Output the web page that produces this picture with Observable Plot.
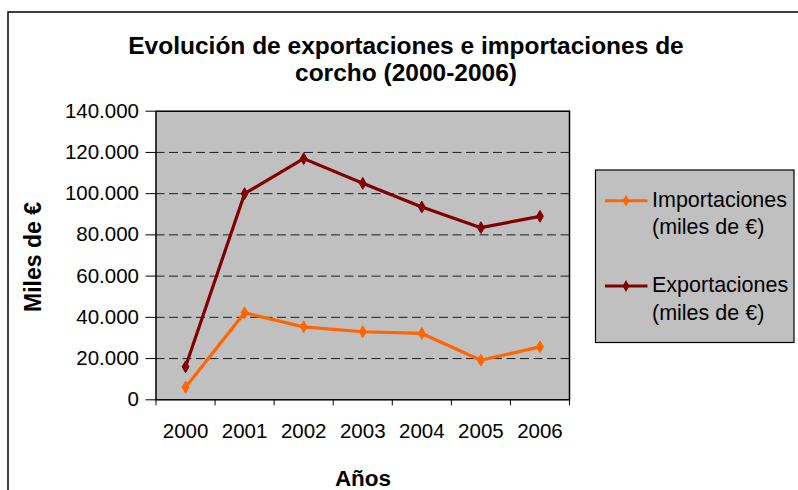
<!DOCTYPE html>
<html>
<head>
<meta charset="utf-8">
<script src="https://cdn.jsdelivr.net/npm/d3@7"></script>
<script src="https://cdn.jsdelivr.net/npm/@observablehq/plot@0.6"></script>
<style>
  html, body { margin: 0; padding: 0; background: #fff; }
  #wrap { position: relative; width: 798px; height: 490px; overflow: hidden; font-family: "Liberation Sans", Arial, sans-serif; }
  #wrap > svg { position: absolute; left: 0; top: 0; }
</style>
</head>
<body>
<div id="wrap"></div>
<script>
// ---- data ----
const years = [2000, 2001, 2002, 2003, 2004, 2005, 2006];
const importaciones = [6100, 42200, 35400, 33000, 32200, 19200, 25700];
const exportaciones = [16000, 100000, 117000, 105000, 93500, 83500, 89000];
const yTicks = [0, 20000, 40000, 60000, 80000, 100000, 120000, 140000];
const gridTicks = [20000, 40000, 60000, 80000, 100000, 120000];
const seriesNames = ["Importaciones", "Exportaciones"];
const legendLabels = [["Importaciones", "(miles de €)"], ["Exportaciones", "(miles de €)"]];
const titleLines = ["Evolución de exportaciones e importaciones de", "corcho (2000-2006)"];
const yTitle = "Miles de €";
const xTitle = "Años";

const colors = {Importaciones: "#ff6600", Exportaciones: "#800000"};
const rows = [];
years.forEach((y, i) => {
  rows.push({year: y, serie: "Importaciones", value: importaciones[i]});
  rows.push({year: y, serie: "Exportaciones", value: exportaciones[i]});
});
const boundaries = [years[0] - 0.5, ...years.map(y => y + 0.5)];
const fmt = d => d === 0 ? "0" : d3.format(",")(d).replace(/,/g, ".");

const chart = Plot.plot({
  width: 798,
  height: 490,
  marginLeft: 155.5,
  marginRight: 229,
  marginTop: 110.7,
  marginBottom: 90.7,
  style: {fontFamily: "'Liberation Sans', Arial, sans-serif", fontSize: "20.5px", color: "#000", background: "transparent"},
  x: {type: "linear", domain: [years[0] - 0.5, years[years.length - 1] + 0.5], axis: null},
  y: {domain: [0, 140000], axis: null},
  color: {domain: seriesNames, range: seriesNames.map(s => colors[s])},
  marks: [
    Plot.frame({fill: "#c0c0c0"}),
    Plot.ruleY(gridTicks, {stroke: "#000", strokeWidth: 1, strokeDasharray: "9,4.5", strokeOpacity: 0.85}),
    Plot.axisY(yTicks, {tickSize: 10, tickPadding: 7, tickFormat: fmt, label: null, stroke: "#000", fill: "#000", fontSize: 20.5}),
    Plot.axisX(boundaries, {tickSize: 6, tickFormat: () => "", label: null, stroke: "#000"}),
    Plot.axisX(years, {tickSize: 0, tickPadding: 24, tickFormat: d => String(d), label: null, fill: "#000", fontSize: 20.5}),
    Plot.line(rows, {x: "year", y: "value", z: "serie", stroke: "serie", strokeWidth: 3.2, strokeLinejoin: "round"}),
    Plot.dot(rows, {x: "year", y: "value", fill: "serie", stroke: "serie", symbol: "diamond", r: 3.6, strokeWidth: 1}),
    Plot.frame({stroke: "#000", strokeWidth: 1.5})
  ]
});
document.getElementById("wrap").appendChild(chart);

// ---- overlay: outer border, titles, legend ----
const ov = d3.select("#wrap").append("svg")
  .attr("width", 798).attr("height", 490)
  .style("font-family", "'Liberation Sans', Arial, sans-serif");

ov.append("rect").attr("x", 8).attr("y", 12).attr("width", 820).attr("height", 500)
  .attr("fill", "none").attr("stroke", "#000").attr("stroke-width", 1.5);

ov.selectAll("text.title").data(titleLines).join("text")
  .attr("class", "title")
  .attr("x", 406).attr("y", (d, i) => 53.5 + i * 27.5)
  .attr("text-anchor", "middle").attr("font-weight", "bold").attr("font-size", 24.5)
  .text(d => d);

ov.append("text").attr("transform", "translate(41,257) rotate(-90)")
  .attr("text-anchor", "middle").attr("font-weight", "bold").attr("font-size", 23)
  .text(yTitle);

ov.append("text").attr("x", 363).attr("y", 486)
  .attr("text-anchor", "middle").attr("font-weight", "bold").attr("font-size", 22.5)
  .text(xTitle);

// legend
ov.append("rect").attr("x", 595.5).attr("y", 170).attr("width", 198.5).attr("height", 172.5)
  .attr("fill", "#c0c0c0").attr("stroke", "#000").attr("stroke-width", 1.2);
const legY = [200.7, 286];
seriesNames.forEach((s, i) => {
  const g = ov.append("g");
  g.append("line").attr("x1", 605).attr("x2", 647.5).attr("y1", legY[i]).attr("y2", legY[i])
    .attr("stroke", colors[s]).attr("stroke-width", 3);
  g.append("path").attr("d", d3.symbol(d3.symbolDiamond, 40)())
    .attr("transform", `translate(626,${legY[i]})`).attr("fill", colors[s]);
  legendLabels[i].forEach((t, j) => {
    g.append("text").attr("x", 652).attr("y", legY[i] + 6 + j * 27.5)
      .attr("font-size", 21.5).attr("fill", "#000").text(t);
  });
});
</script>
</body>
</html>
